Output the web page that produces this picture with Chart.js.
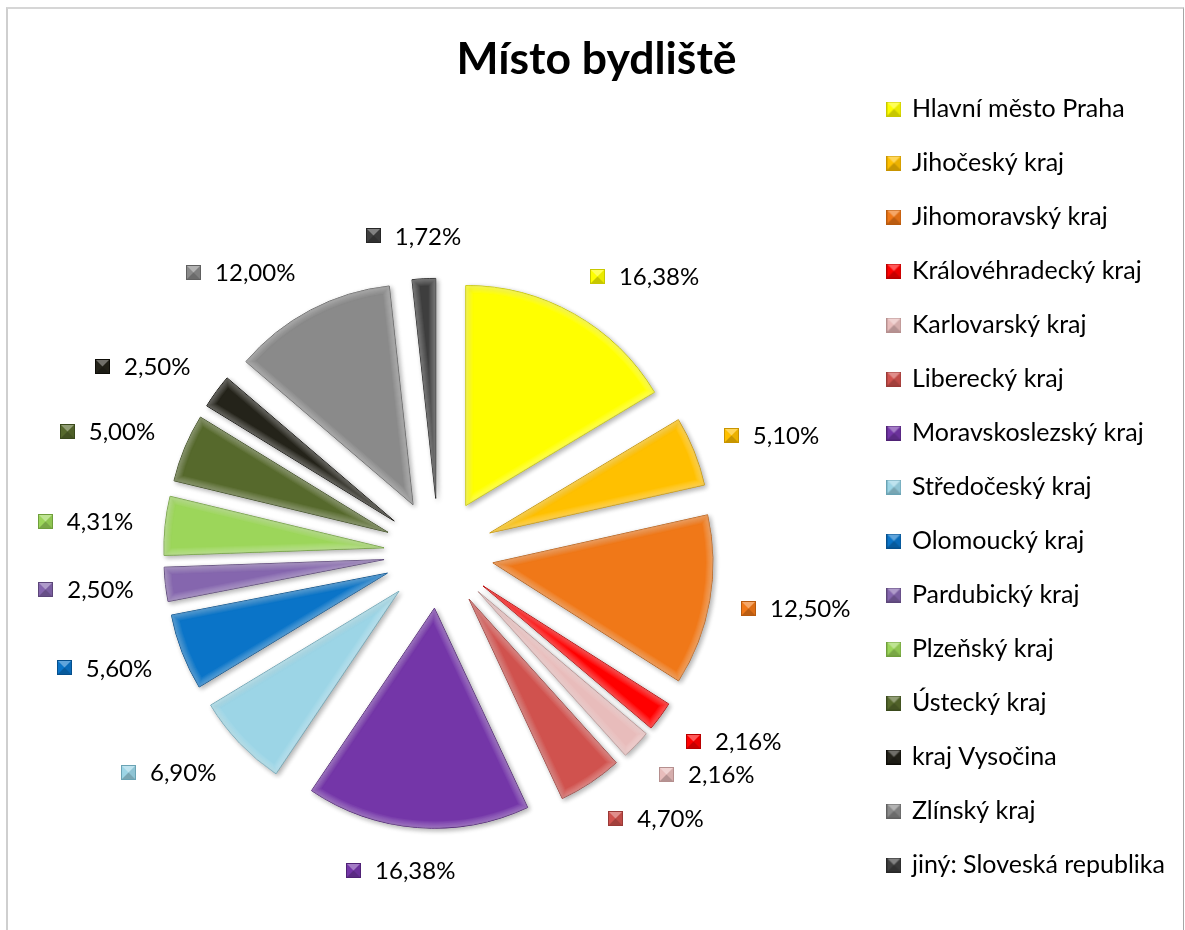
<!DOCTYPE html>
<html>
<head>
<meta charset="utf-8">
<script src="https://cdn.jsdelivr.net/npm/chart.js@4.4.1/dist/chart.umd.min.js"></script>
<style>
  html, body { margin: 0; padding: 0; background: #fff; }
  #wrap { position: relative; width: 1185px; height: 930px; }
  #frame { position: absolute; left: 6px; top: 7px; width: 1175px; height: 940px;
           border-left: 2px solid #cfcfcf; border-top: 2px solid #d6d6d6; border-right: 1px solid #a6a6a6;
           pointer-events: none; }
</style>
</head>
<body>
<div id="wrap">
  <canvas id="myChart"></canvas>
  <div id="frame"></div>
</div>
<script>
// data
const regions = ['Hlavní město Praha', 'Jihočeský kraj', 'Jihomoravský kraj', 'Královéhradecký kraj',
  'Karlovarský kraj', 'Liberecký kraj', 'Moravskoslezský kraj', 'Středočeský kraj', 'Olomoucký kraj',
  'Pardubický kraj', 'Plzeňský kraj', 'Ústecký kraj', 'kraj Vysočina', 'Zlínský kraj', 'jiný: Sloveská republika'];
const shares = [16.38, 5.10, 12.50, 2.16, 2.16, 4.70, 16.38, 6.90, 5.60, 2.50, 4.31, 5.00, 2.50, 12.00, 1.72];

const sliceColors = ['#FFFF00', '#FFC000', '#F07818', '#FF0000', '#E8BCBB', '#D0524E', '#7436A8', '#9CD5E6',
  '#0A74C8', '#8566AE', '#9CD65A', '#56692C', '#24231A', '#8A8A8A', '#3E3E3E'];
const sliceBorders = ['#C8C800', '#C89400', '#B85A0E', '#B80000', '#B58F8E', '#9A3A37', '#4F2275', '#6AA3B4',
  '#064F8C', '#5C4679', '#6F9E3C', '#3A4A1C', '#0E0D08', '#606060', '#262626'];

const FONT = 'Lato';
const FS = 24;      // data labels
const LEG_FS = 25;  // legend
const EXPLODE = 55;
const LABEL_R = 307;
const MARK = 15;

const fmt = v => v.toFixed(2).replace('.', ',') + '%';

// little bevelled square like the Excel markers
function makeMarker(color, border) {
  const c = document.createElement('canvas');
  c.width = MARK; c.height = MARK;
  const g = c.getContext('2d');
  const m = MARK / 2;
  g.fillStyle = color;
  g.fillRect(0, 0, MARK, MARK);
  g.fillStyle = 'rgba(255,255,255,0.35)';
  g.beginPath(); g.moveTo(0, 0); g.lineTo(MARK, 0); g.lineTo(m, m); g.closePath(); g.fill();
  g.fillStyle = 'rgba(0,0,0,0.22)';
  g.beginPath(); g.moveTo(0, MARK); g.lineTo(MARK, MARK); g.lineTo(m, m); g.closePath(); g.fill();
  g.fillStyle = 'rgba(0,0,0,0.08)';
  g.beginPath(); g.moveTo(MARK, 0); g.lineTo(MARK, MARK); g.lineTo(m, m); g.closePath(); g.fill();
  g.strokeStyle = border;
  g.lineWidth = 1;
  g.strokeRect(0.5, 0.5, MARK - 1, MARK - 1);
  return c;
}
const markers = sliceColors.map((c, i) => makeMarker(c, sliceBorders[i]));

const explodePlugin = {
  id: 'explode',
  beforeDatasetDraw(chart, args) {
    const ctx = chart.ctx;
    args.meta.data.forEach(arc => {
      const mid = (arc.startAngle + arc.endAngle) / 2;
      ctx.save();
      ctx.translate(Math.cos(mid) * EXPLODE, Math.sin(mid) * EXPLODE);
      ctx.save();
      ctx.shadowColor = 'rgba(0,0,0,0.3)';
      ctx.shadowBlur = 5;
      ctx.shadowOffsetX = 2;
      ctx.shadowOffsetY = 2;
      arc.draw(ctx);
      ctx.restore();
      // soft bevel: light rim fading inwards
      ctx.beginPath();
      ctx.moveTo(arc.x, arc.y);
      ctx.arc(arc.x, arc.y, arc.outerRadius, arc.startAngle, arc.endAngle);
      ctx.closePath();
      ctx.clip();
      ctx.lineJoin = 'round';
      ctx.strokeStyle = 'rgba(255,255,255,0.05)';
      for (let lw = 2; lw <= 14; lw += 2) {
        ctx.lineWidth = lw;
        ctx.stroke();
      }
      ctx.restore();
    });
    return false;
  },
  afterDatasetsDraw(chart) {
    const ctx = chart.ctx;
    const meta = chart.getDatasetMeta(0);
    ctx.save();
    ctx.font = FS + 'px ' + FONT;
    ctx.textBaseline = 'middle';
    ctx.fillStyle = '#000';
    meta.data.forEach((arc, i) => {
      const mid = (arc.startAngle + arc.endAngle) / 2;
      const dx = Math.cos(mid), dy = Math.sin(mid);
      const ax = arc.x + dx * LABEL_R, ay = arc.y + dy * LABEL_R;
      const text = fmt(shares[i]);
      const w = MARK + 14 + ctx.measureText(text).width;
      const h = 22;
      const ox = Math.abs(dx) > 0.3 ? Math.sign(dx) * w / 2 : dx / 0.3 * w / 2;
      const cx = ax + ox, cy = ay + dy * h / 2;
      const left = cx - w / 2;
      ctx.drawImage(markers[i], Math.round(left), Math.round(cy - MARK / 2));
      ctx.fillText(text, left + MARK + 14, cy + 1);
    });
    ctx.restore();
  }
};

const ctx = document.getElementById('myChart');

new Chart(ctx, {
  type: 'pie',
  data: {
    labels: regions,
    datasets: [{
      data: shares,
      backgroundColor: sliceColors,
      borderColor: sliceBorders,
      borderWidth: 1
    }]
  },
  options: {
    responsive: true,
    maintainAspectRatio: false,
    animation: false,
    radius: 220,
    layout: { padding: { top: 44, left: 18, right: 10, bottom: 0 } },
    plugins: {
      title: {
        display: true,
        text: 'Místo bydliště',
        color: '#000',
        font: { family: FONT, size: 44.5, weight: 'bold', lineHeight: 0.6 },
        padding: { top: 2, bottom: 104 }
      },
      legend: {
        position: 'right',
        align: 'center',
        labels: {
          color: '#000',
          font: { family: FONT, size: LEG_FS },
          boxWidth: 11,
          boxHeight: MARK,
          padding: 29,
          usePointStyle: true,
          generateLabels(chart) {
            return chart.data.labels.map((l, i) => ({
              text: l,
              fillStyle: sliceColors[i],
              strokeStyle: sliceBorders[i],
              lineWidth: 0,
              pointStyle: markers[i],
              hidden: false,
              index: i
            }));
          }
        }
      },
      tooltip: { enabled: false }
    }
  },
  plugins: [explodePlugin]
});
</script>
</body>
</html>
